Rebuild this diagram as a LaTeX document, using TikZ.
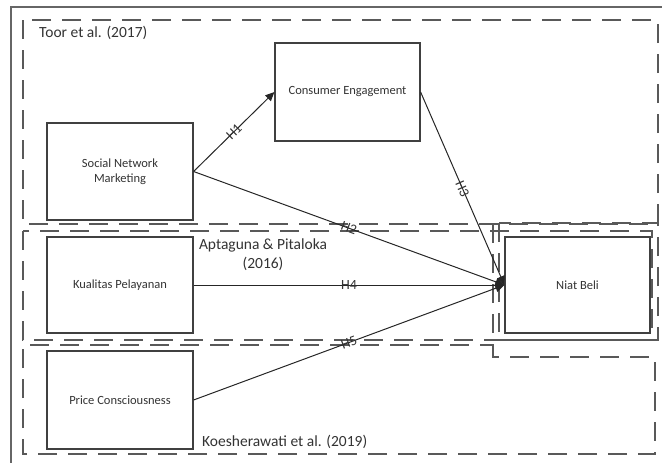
\documentclass[tikz,border=0pt]{standalone}
\usepackage{fontspec}
\setmainfont{Carlito}
\usetikzlibrary{arrows.meta}
\begin{document}
\begin{tikzpicture}[x=1pt,y=-1pt,
  grp/.style={draw=black!65, line width=1.3pt, dash pattern=on 19pt off 11pt},
  varbox/.style={draw=black!75, line width=1.2pt, inner sep=0pt, minimum width=146pt, minimum height=97pt, align=center, font=\fontsize{12.5}{15}\selectfont, text=black!80},
  hyp/.style={draw=black!85, line width=1pt},
  arr/.style={hyp, -{Triangle[length=9pt,width=8pt]}},
  hlab/.style={sloped, inner sep=0pt, font=\fontsize{14}{16}\selectfont, text=black!80},
  glab/.style={font=\fontsize{15.5}{19}\selectfont, text=black!80, inner sep=0pt}
]
\useasboundingbox (0,0) rectangle (662,463);
% outer frame
\draw[black!60, line width=1.5pt] (11,463) -- (11,7) -- (662,7);
% group frames
\draw[grp] (23,20) rectangle (658,224);
\draw[grp] (499,223) rectangle (658,340);
\draw[grp] (23,231) rectangle (652,340);
\draw[grp] (493,224) -- (493,357) -- (655,357) -- (655,454) -- (23,454) -- (23,345) -- (493,345);
% group labels
\node[glab, anchor=west] (toor) at (39,33) {Toor et al. (2017)};
\node[glab, align=center] (apta) at (263,255) {Aptaguna \& Pitaloka\\(2016)};
\node[glab, anchor=west] (koes) at (202,442) {Koesherawati et al. (2019)};
% variables
\node[varbox] (snm) at (120,171.5) {Social Network\\Marketing};
\node[varbox, minimum width=145pt, minimum height=98pt] (ce) at (347.5,92) {Consumer Engagement};
\node[varbox, minimum height=96pt] (kp) at (120,285) {Kualitas Pelayanan};
\node[varbox, minimum height=98pt] (pc) at (120,400) {Price Consciousness};
\node[varbox, minimum width=145pt, minimum height=96pt] (nb) at (577.5,285) {Niat Beli};
% hypotheses
\draw[arr] (snm.east) -- node[hlab] {H1} (ce.west);
\draw[arr] (snm.east) -- node[hlab] {H2} (nb.west);
\draw[arr] (ce.east) -- node[hlab] {H3} (nb.west);
\draw[arr] (kp.east) -- node[hlab] {H4} (nb.west);
\draw[arr] (pc.east) -- node[hlab] {H5} (nb.west);
\end{tikzpicture}
\end{document}
